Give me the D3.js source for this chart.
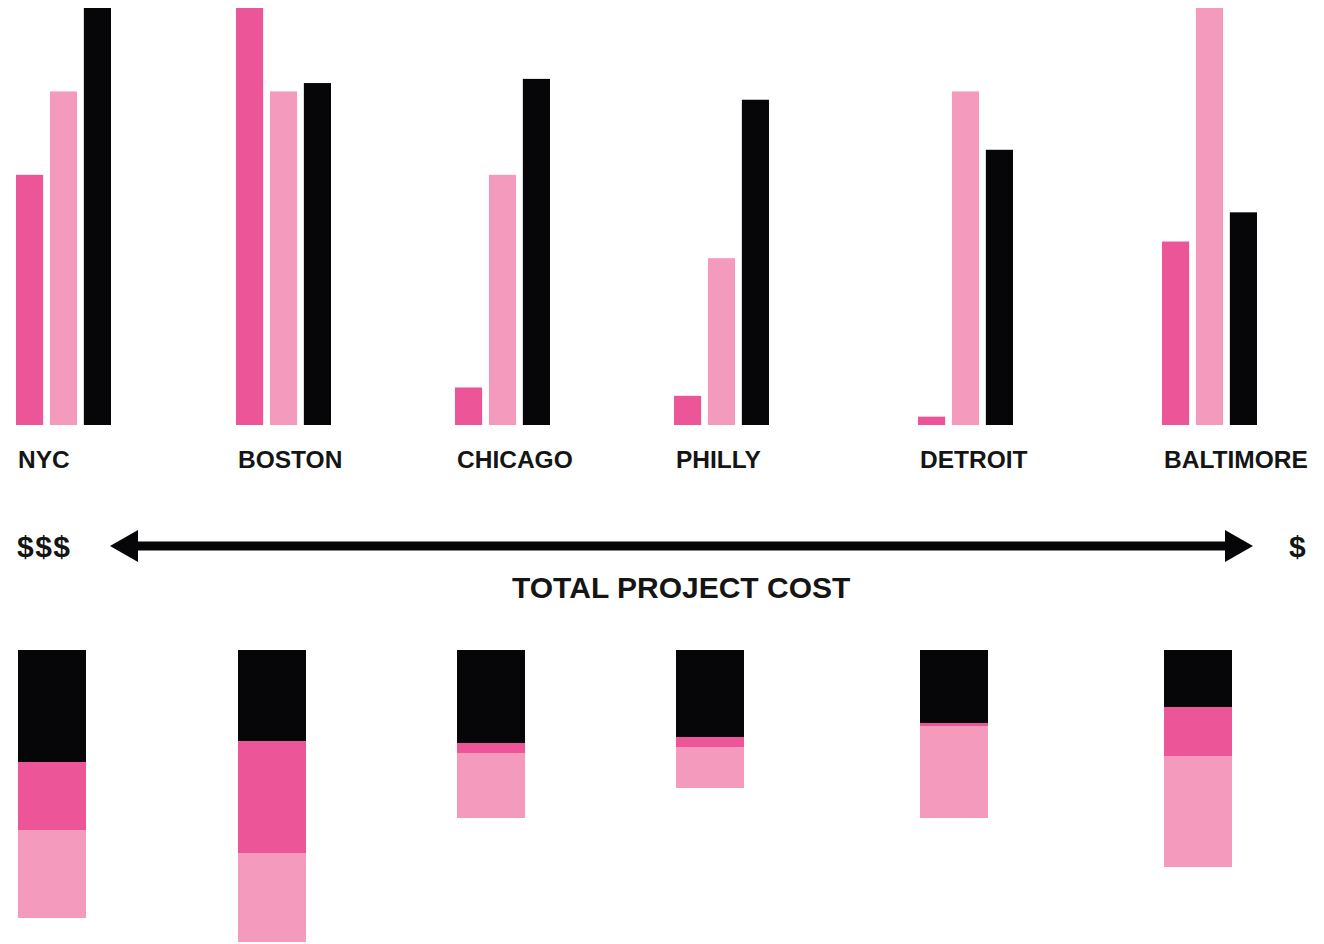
<!DOCTYPE html>
<html>
<head>
<meta charset="utf-8">
<script src="https://cdn.jsdelivr.net/npm/d3@7"></script>
<style>
  html, body { margin: 0; padding: 0; background: #fff; }
  svg { display: block; }
  text { font-family: "Liberation Sans", Arial, sans-serif; font-weight: bold; fill: #151515; }
</style>
</head>
<body>
<div id="chart"></div>
<script>
// --- Data ---
const cities = ['NYC', 'BOSTON', 'CHICAGO', 'PHILLY', 'DETROIT', 'BALTIMORE'];
const seriesKeys = ['a', 'b', 'c'];   // dark pink, light pink, black

// top grouped bars (relative, max = 100)
const valuesA = [60, 100, 9, 7, 2, 44];
const valuesB = [80, 80, 60, 40, 80, 100];
const valuesC = [100, 82, 83, 78, 66, 51];

// bottom stacks, top to bottom: black, dark pink, light pink
const stackBlack = [112, 91, 93, 87, 73, 57];
const stackDark  = [68, 112, 10, 10, 3, 49];
const stackLight = [88, 89, 65, 41, 92, 111];

// --- Layout ---
const width = 1324, height = 944;
const colors = { a: '#ec5598', b: '#f49abd', c: '#060608' };
const groupLeft = [16, 236, 455, 674, 918, 1162];   // uneven spacing as in the original
const groupWidth = 95;
const baseY = 425, topY = 8;
const stackTop = 650, stackW = 68;

const svg = d3.select('#chart').append('svg')
    .attr('width', width)
    .attr('height', height);

const x0 = d3.scaleOrdinal().domain(cities).range(groupLeft);
const x1 = d3.scaleBand().domain(seriesKeys).range([0, groupWidth]).paddingInner(0.2).paddingOuter(0);
const y = d3.scaleLinear().domain([0, 100]).range([baseY, topY]);

const rows = cities.map((c, i) => ({ city: c, a: valuesA[i], b: valuesB[i], c: valuesC[i] }));

// --- Grouped bars ---
const groups = svg.append('g').selectAll('g')
    .data(rows)
    .join('g')
    .attr('transform', d => `translate(${x0(d.city)},0)`);

groups.selectAll('rect')
    .data(d => seriesKeys.map(k => ({ key: k, value: d[k] })))
    .join('rect')
    .attr('x', d => x1(d.key))
    .attr('y', d => y(d.value))
    .attr('width', x1.bandwidth())
    .attr('height', d => baseY - y(d.value))
    .attr('fill', d => colors[d.key]);

// city labels
svg.append('g').selectAll('text')
    .data(cities)
    .join('text')
    .attr('x', d => x0(d) + 2)
    .attr('y', 468)
    .attr('font-size', 24.5)
    .text(d => d);

// --- Cost arrow ---
const arrowY = 546;
svg.append('line')
    .attr('x1', 130).attr('x2', 1233)
    .attr('y1', arrowY).attr('y2', arrowY)
    .attr('stroke', '#060608')
    .attr('stroke-width', 9);
svg.append('path')
    .attr('d', `M110,${arrowY}L138,${arrowY - 16}L138,${arrowY + 16}Z`)
    .attr('fill', '#060608');
svg.append('path')
    .attr('d', `M1253,${arrowY}L1225,${arrowY - 16}L1225,${arrowY + 16}Z`)
    .attr('fill', '#060608');

svg.append('text')
    .attr('x', 17).attr('y', 557)
    .attr('font-size', 30)
    .attr('letter-spacing', 1.5)
    .text('$$$');
svg.append('text')
    .attr('x', 1289).attr('y', 557)
    .attr('font-size', 30)
    .text('$');
svg.append('text')
    .attr('x', 512).attr('y', 598)
    .attr('font-size', 30)
    .text('TOTAL PROJECT COST');

// --- Stacked bars (hanging downward) ---
const stackRows = cities.map((c, i) => ({ city: c, black: stackBlack[i], dark: stackDark[i], light: stackLight[i] }));
const stack = d3.stack().keys(['black', 'dark', 'light'])(stackRows);
const yS = d3.scaleLinear().domain([0, 300]).range([stackTop, stackTop + 300]);
const stackColors = { black: colors.c, dark: colors.a, light: colors.b };

svg.append('g').selectAll('g')
    .data(stack)
    .join('g')
    .attr('fill', d => stackColors[d.key])
    .selectAll('rect')
    .data(d => d)
    .join('rect')
    .attr('x', d => x0(d.data.city) + 2)
    .attr('y', d => yS(d[0]))
    .attr('width', stackW)
    .attr('height', d => yS(d[1]) - yS(d[0]));
</script>
</body>
</html>
